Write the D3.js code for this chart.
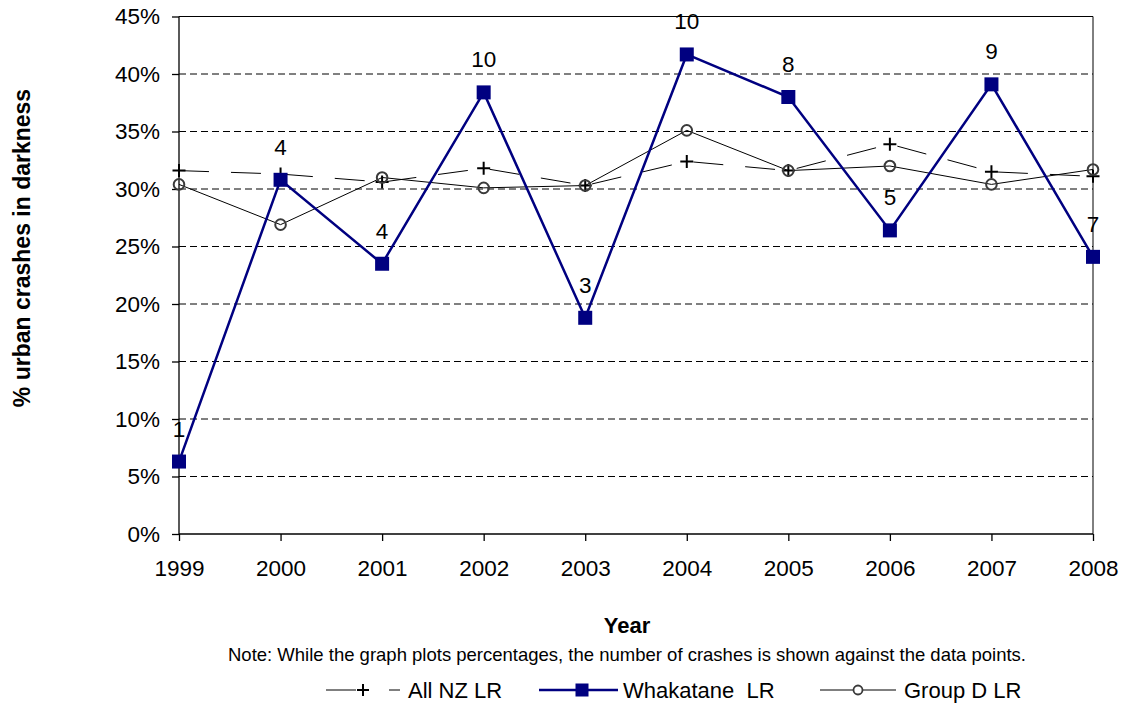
<!DOCTYPE html>
<html><head><meta charset="utf-8">
<script src="https://cdn.jsdelivr.net/npm/d3@7"></script>
<style>body{margin:0;background:#fff}svg{display:block;font-family:"Liberation Sans",Arial,sans-serif}</style>
</head><body><svg id="c" width="1123" height="726"></svg>
<script>
const years = [1999,2000,2001,2002,2003,2004,2005,2006,2007,2008];
const allNZ = [31.6,31.3,30.6,31.8,30.3,32.4,31.6,33.9,31.5,31.1];
const whakatane = [6.3,30.8,23.5,38.4,18.8,41.7,38.0,26.4,39.1,24.1];
const groupD = [30.4,26.9,31.0,30.1,30.3,35.1,31.6,32.0,30.4,31.7];
const crashCounts = [1,4,4,10,3,10,8,5,9,7];
const yTicks = [0,5,10,15,20,25,30,35,40,45];

const FONT = "Liberation Sans, Arial, sans-serif";
const svg = d3.select("#c");
const L=179,R=1093,T=16.5,B=534;
const x = d3.scalePoint().domain(years).range([L,R]);
const y = d3.scaleLinear().domain([0,45]).range([B,T]);

// gridlines
svg.append("g").selectAll("line").data(yTicks.filter(d=>d>0&&d<45)).join("line")
  .attr("x1",L).attr("x2",R).attr("y1",d=>y(d)).attr("y2",d=>y(d))
  .attr("stroke","#000").attr("stroke-width",1).attr("stroke-dasharray","7,4");
// border top/right
svg.append("line").attr("x1",L).attr("x2",R).attr("y1",y(45)).attr("y2",y(45)).attr("stroke","#000");
svg.append("line").attr("x1",R).attr("x2",R).attr("y1",y(45)).attr("y2",B).attr("stroke","#000");

// axes
const yAxis = d3.axisLeft(y).tickValues(yTicks).tickFormat(d=>d+"%").tickSize(7).tickPadding(12);
const gy = svg.append("g").attr("transform",`translate(${L},0)`).call(yAxis);
const xAxis = d3.axisBottom(x).tickSize(7).tickPadding(19).tickFormat(d3.format("d"));
const gx = svg.append("g").attr("transform",`translate(0,${B})`).call(xAxis);
[gy,gx].forEach(g=>{
  g.attr("font-size",22.5).attr("font-family",FONT);
  g.selectAll("text").attr("fill","#000");
  g.selectAll("line,path").attr("stroke","#000").attr("stroke-width",1.3);
});
gy.select(".domain").attr("d",`M0,${T}V${B}`);
gx.select(".domain").attr("d",`M${L},0H${R}`);

const line = d3.line().x((d,i)=>x(years[i])).y(d=>y(d));

// All NZ: long dashed thin line with + markers
svg.append("path").datum(allNZ).attr("d",line).attr("fill","none")
  .attr("stroke","#000").attr("stroke-width",1).attr("stroke-dasharray","30,22");
svg.append("g").selectAll("path").data(allNZ).join("path")
  .attr("d",(d,i)=>{const cx=x(years[i]),cy=y(d);return `M${cx-6.5},${cy}H${cx+6.5}M${cx},${cy-6.5}V${cy+6.5}`;})
  .attr("stroke","#000").attr("stroke-width",2);

// Group D: thin solid, hollow circle markers
svg.append("path").datum(groupD).attr("d",line).attr("fill","none")
  .attr("stroke","#000").attr("stroke-width",1);
svg.append("g").selectAll("circle").data(groupD).join("circle")
  .attr("cx",(d,i)=>x(years[i])).attr("cy",d=>y(d)).attr("r",5.3)
  .attr("fill","none").attr("stroke","#3a3a3a").attr("stroke-width",2);

// Whakatane: navy thick line, squares
svg.append("path").datum(whakatane).attr("d",line).attr("fill","none")
  .attr("stroke","#000080").attr("stroke-width",2.5);
svg.append("g").selectAll("rect").data(whakatane).join("rect")
  .attr("x",(d,i)=>x(years[i])-7).attr("y",d=>y(d)-7).attr("width",14).attr("height",14)
  .attr("fill","#000080");

// crash count labels
svg.append("g").selectAll("text").data(crashCounts).join("text")
  .attr("x",(d,i)=>x(years[i])).attr("y",(d,i)=>y(whakatane[i])-25)
  .attr("text-anchor","middle").attr("font-size",22.5).attr("fill","#000").text(d=>d);

// axis titles
svg.append("text").attr("transform","translate(30,248) rotate(-90)").attr("text-anchor","middle")
  .attr("font-size",23).attr("font-weight","bold").text("% urban crashes in darkness");
svg.append("text").attr("x",627).attr("y",633).attr("text-anchor","middle")
  .attr("font-size",22).attr("font-weight","bold").text("Year");
svg.append("text").attr("x",627).attr("y",661).attr("text-anchor","middle")
  .attr("font-size",18.5).text("Note: While the graph plots percentages, the number of crashes is shown against the data points.");

// legend
const lg = svg.append("g");
const ly = 690;
// All NZ
lg.append("line").attr("x1",326).attr("x2",356).attr("y1",ly).attr("y2",ly).attr("stroke","#000");
lg.append("path").attr("d",`M${357},${ly}h12M${363},${ly-6}v12`).attr("stroke","#000").attr("stroke-width",2);
lg.append("line").attr("x1",389).attr("x2",400).attr("y1",ly).attr("y2",ly).attr("stroke","#000");
lg.append("text").attr("x",408).attr("y",ly+8).attr("font-size",22).text("All NZ LR");
// Whakatane
lg.append("line").attr("x1",539).attr("x2",618).attr("y1",ly).attr("y2",ly).attr("stroke","#000080").attr("stroke-width",2.5);
lg.append("rect").attr("x",575.5).attr("y",ly-6.5).attr("width",13).attr("height",13).attr("fill","#000080");
lg.append("text").attr("x",623).attr("y",ly+8).attr("font-size",22).attr("xml:space","preserve").text("Whakatane  LR");
// Group D
lg.append("line").attr("x1",820).attr("x2",896).attr("y1",ly).attr("y2",ly).attr("stroke","#000");
lg.append("circle").attr("cx",858).attr("cy",ly).attr("r",4.5).attr("fill","#fff").attr("stroke","#3a3a3a").attr("stroke-width",1.8);
lg.append("text").attr("x",904).attr("y",ly+8).attr("font-size",22).text("Group D LR");
</script></body></html>
